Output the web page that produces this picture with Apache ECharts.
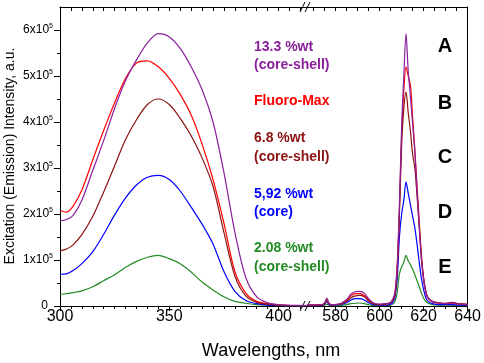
<!DOCTYPE html>
<html>
<head>
<meta charset="utf-8">
<script src="https://cdn.jsdelivr.net/npm/echarts@6/dist/echarts.min.js"></script>
<style>
html, body { margin: 0; padding: 0; background: #fff; }
#main { width: 484px; height: 363px; }
</style>
</head>
<body>
<div id="main"></div>
<script>
// excitation part (left of the axis break), wavelength in nm
var excWl = [300, 303, 306, 310, 315, 320, 325, 330, 335, 340, 345, 350, 355, 360, 365, 370, 375, 380, 385, 390, 395, 400, 405, 413];
// intensities in units of 1e5 a.u.
var excA = [1.85, 1.88, 1.97, 2.3, 2.95, 3.6, 4.3, 4.9, 5.35, 5.72, 5.92, 5.85, 5.6, 5.2, 4.7, 4.0, 2.9, 1.6, 0.62, 0.2, 0.07, 0.03, 0.02, 0.01];
var excB = [2.07, 2.04, 2.17, 2.52, 3.18, 3.82, 4.42, 4.95, 5.28, 5.33, 5.2, 4.95, 4.6, 4.15, 3.52, 2.75, 1.8, 0.75, 0.28, 0.1, 0.05, 0.02, 0.01, 0.01];
var excC = [1.2, 1.24, 1.33, 1.55, 1.95, 2.48, 3.05, 3.62, 4.05, 4.38, 4.5, 4.38, 4.08, 3.7, 3.22, 2.6, 1.6, 0.65, 0.22, 0.08, 0.04, 0.02, 0.01, 0.01];
var excD = [0.69, 0.7, 0.77, 0.92, 1.18, 1.56, 1.98, 2.35, 2.63, 2.8, 2.84, 2.75, 2.5, 2.15, 1.78, 1.35, 0.75, 0.32, 0.12, 0.05, 0.02, 0.01, 0, 0];
var excE = [0.25, 0.27, 0.29, 0.33, 0.42, 0.55, 0.68, 0.84, 0.97, 1.06, 1.1, 1.03, 0.92, 0.74, 0.52, 0.35, 0.2, 0.1, 0.06, 0.03, 0.02, 0.01, 0, 0];

// emission part (right of the break)
var emWl = [567, 570, 574, 575, 576, 577, 578, 582, 585, 587, 589, 591, 593, 595, 597, 600, 603, 605, 606, 607, 608, 609, 610, 611, 612, 613, 614, 615, 616, 617, 618, 619, 620, 621, 622, 624, 627, 630, 633, 636, 640];
var emA = [0.02, 0.02, 0.03, 0.07, 0.17, 0.06, 0.03, 0.05, 0.14, 0.26, 0.31, 0.32, 0.28, 0.16, 0.07, 0.04, 0.05, 0.08, 0.15, 0.3, 0.9, 2.2, 3.9, 5.0, 5.92, 5.1, 4.55, 3.95, 3.35, 2.5, 1.75, 1.0, 0.55, 0.3, 0.17, 0.1, 0.06, 0.05, 0.07, 0.04, 0.03];
var emB = [0.02, 0.02, 0.03, 0.06, 0.14, 0.05, 0.03, 0.04, 0.12, 0.22, 0.27, 0.27, 0.23, 0.13, 0.06, 0.03, 0.04, 0.07, 0.13, 0.28, 0.85, 2.1, 3.7, 4.7, 5.2, 5.0, 4.8, 4.1, 3.4, 2.6, 1.85, 1.1, 0.6, 0.3, 0.17, 0.09, 0.06, 0.05, 0.06, 0.04, 0.03];
var emC = [0.02, 0.02, 0.03, 0.05, 0.12, 0.05, 0.03, 0.04, 0.1, 0.18, 0.22, 0.23, 0.2, 0.11, 0.05, 0.03, 0.04, 0.07, 0.12, 0.25, 0.8, 2.0, 3.5, 4.3, 4.65, 4.2, 3.8, 3.3, 3.0, 2.4, 1.7, 1.05, 0.6, 0.32, 0.18, 0.1, 0.07, 0.06, 0.08, 0.05, 0.04];
var emD = [0.01, 0.01, 0.02, 0.04, 0.1, 0.03, 0.02, 0.03, 0.07, 0.13, 0.16, 0.16, 0.13, 0.07, 0.03, 0.02, 0.02, 0.04, 0.08, 0.2, 0.6, 1.5, 2.0, 2.3, 2.7, 2.45, 2.2, 1.95, 1.7, 1.35, 0.95, 0.6, 0.35, 0.18, 0.1, 0.05, 0.03, 0.03, 0.03, 0.02, 0.02];
var emE = [0.01, 0.01, 0.01, 0.02, 0.04, 0.02, 0.01, 0.01, 0.03, 0.05, 0.06, 0.065, 0.05, 0.03, 0.01, 0.01, 0.01, 0.02, 0.04, 0.1, 0.3, 0.7, 0.85, 0.95, 1.1, 0.98, 0.9, 0.8, 0.68, 0.55, 0.42, 0.28, 0.17, 0.1, 0.06, 0.03, 0.02, 0.02, 0.02, 0.01, 0.01];

var excLabels = [300, 350, 400];
var emLabels = [580, 600, 620, 640];
var yLabels = [0, 1, 2, 3, 4, 5, 6];
var yMinor = [0.5, 1.5, 2.5, 3.5, 4.5, 5.5];

var names = ['13.3 %wt', '(core-shell)', 'Fluoro-Max', '6.8 %wt', '(core-shell)', '5,92 %wt', '(core)', '2.08 %wt', '(core-shell)'];
var letters = ['A', 'B', 'C', 'D', 'E'];

var FONT = '"Liberation Sans", Arial, sans-serif';
var colA = '#8a1f9c', colB = '#ff0000', colC = '#8b1212', colD = '#0000ff', colE = '#238b23';

function range(a, b, step) {
    var out = [];
    for (var v = a; v <= b; v += step) out.push(v);
    return out;
}
function pairs(xs, ys) {
    return xs.map(function (x, i) { return [x, ys[i]]; });
}

var black = { color: '#000', width: 1 };
function xAxes(grid, min, max, labels, minor) {
    return [
        { gridIndex: grid, type: 'value', position: 'bottom', min: min, max: max,
          axisLine: { show: true, lineStyle: black },
          axisTick: { show: true, inside: false, length: 5, lineStyle: black, customValues: labels },
          axisLabel: { show: true, customValues: labels, margin: 3, color: '#000', fontSize: 16, fontFamily: FONT },
          splitLine: { show: false } },
        { gridIndex: grid, type: 'value', position: 'bottom', min: min, max: max,
          axisLine: { show: false },
          axisTick: { show: true, inside: false, length: 3, lineStyle: black, customValues: minor },
          axisLabel: { show: false }, splitLine: { show: false } },
        { gridIndex: grid, type: 'value', position: 'top', min: min, max: max,
          axisLine: { show: true, lineStyle: black },
          axisTick: { show: true, inside: true, length: 4, lineStyle: black, customValues: minor.concat(labels) },
          axisLabel: { show: false }, splitLine: { show: false } }
    ];
}

function line(name, xi, yi, xs, ys, color) {
    return {
        name: name, type: 'line', xAxisIndex: xi, yAxisIndex: yi,
        data: pairs(xs, ys), showSymbol: false, smooth: 0.3, clip: true,
        lineStyle: { color: color, width: 1.2 }, itemStyle: { color: color }
    };
}

var chart = echarts.init(document.getElementById('main'));

var annot = [
    [names[0], colA, 47], [names[1], colA, 65], [names[2], colB, 101],
    [names[3], colC, 138], [names[4], colC, 157], [names[5], colD, 194],
    [names[6], colD, 212], [names[7], colE, 248], [names[8], colE, 267]
];
var letterY = [46, 103, 157, 212, 267];

var graphics = [];
annot.forEach(function (a) {
    graphics.push({ type: 'text', x: 254, y: a[2], silent: true,
        style: { text: a[0], fill: a[1], font: 'bold 14px ' + FONT, textAlign: 'left', textVerticalAlign: 'middle' } });
});
letters.forEach(function (l, i) {
    graphics.push({ type: 'text', x: 445, y: letterY[i], silent: true,
        style: { text: l, fill: '#000', font: 'bold 20px ' + FONT, textAlign: 'center', textVerticalAlign: 'middle' } });
});
graphics.push({ type: 'text', x: 271, y: 351, silent: true,
    style: { text: 'Wavelengths, nm', fill: '#000', font: '18px ' + FONT, textAlign: 'center', textVerticalAlign: 'middle' } });
graphics.push({ type: 'text', x: 10, y: 156, rotation: Math.PI / 2, silent: true,
    style: { text: 'Excitation (Emission) Intensity, a.u.', fill: '#000', font: '14px ' + FONT, textAlign: 'center', textVerticalAlign: 'middle' } });
// axis break marks
[7, 306].forEach(function (y) {
    graphics.push({ type: 'rect', silent: true, shape: { x: 303, y: y - 2, width: 6, height: 4 }, style: { fill: '#fff' } });
    graphics.push({ type: 'line', silent: true, shape: { x1: 300, y1: y + 5, x2: 305, y2: y - 5 }, style: { stroke: '#000', lineWidth: 1 } });
    graphics.push({ type: 'line', silent: true, shape: { x1: 305, y1: y + 5, x2: 310, y2: y - 5 }, style: { stroke: '#000', lineWidth: 1 } });
});

var option = {
    animation: false,
    backgroundColor: '#fff',
    grid: [
        { left: 60, top: 7, width: 247, height: 299 },
        { left: 307, top: 7, width: 161, height: 299 }
    ],
    xAxis: xAxes(0, 300, 413, excLabels, range(305, 410, 5).filter(function (v) { return v % 50; }))
        .concat(xAxes(1, 567, 640, emLabels, range(570, 635, 5).filter(function (v) { return v % 20; }))),
    yAxis: [
        { gridIndex: 0, type: 'value', position: 'left', min: 0, max: 6.5,
          axisLine: { show: true, lineStyle: black },
          axisTick: { show: true, length: 6, lineStyle: black, customValues: yLabels },
          axisLabel: { show: true, customValues: yLabels, margin: 7,
              formatter: function (v) { return v === 0 ? '{z|0}' : '{b|' + v + 'x10}{s|5}'; },
              rich: {
                  b: { fontSize: 12, fontFamily: FONT, color: '#000', lineHeight: 14 },
                  s: { fontSize: 7, fontFamily: FONT, color: '#000', verticalAlign: 'top', padding: [0, 0, 6, 0] },
                  z: { fontSize: 12, fontFamily: FONT, color: '#000', padding: [0, 5, 0, 0] }
              } },
          splitLine: { show: false } },
        { gridIndex: 0, type: 'value', position: 'left', min: 0, max: 6.5,
          axisLine: { show: false },
          axisTick: { show: true, length: 3, lineStyle: black, customValues: yMinor },
          axisLabel: { show: false }, splitLine: { show: false } },
        { gridIndex: 1, type: 'value', position: 'right', min: 0, max: 6.5,
          axisLine: { show: true, lineStyle: black },
          axisTick: { show: false }, axisLabel: { show: false }, splitLine: { show: false } }
    ],
    series: [
        line('2.08 %wt', 0, 0, excWl, excE, colE),
        line('5,92 %wt', 0, 0, excWl, excD, colD),
        line('Fluoro-Max', 0, 0, excWl, excB, colB),
        line('6.8 %wt', 0, 0, excWl, excC, colC),
        line('13.3 %wt', 0, 0, excWl, excA, colA),
        line('2.08 %wt', 3, 2, emWl, emE, colE),
        line('5,92 %wt', 3, 2, emWl, emD, colD),
        line('Fluoro-Max', 3, 2, emWl, emB, colB),
        line('6.8 %wt', 3, 2, emWl, emC, colC),
        line('13.3 %wt', 3, 2, emWl, emA, colA)
    ],
    graphic: graphics
};
chart.setOption(option);
</script>
</body>
</html>
